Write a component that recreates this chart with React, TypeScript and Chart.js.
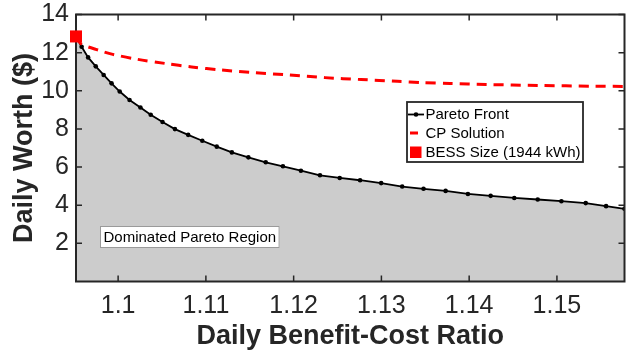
import { useEffect, useRef } from 'react';
import { Chart, registerables } from 'chart.js';

Chart.register(...registerables);

// ---- data ----
const paretoX = [
  1.0952, 1.09584, 1.09658, 1.09745, 1.09835, 1.09925, 1.10018, 1.1013, 1.10254, 1.10371,
  1.10506, 1.10647, 1.10798, 1.10959, 1.11124, 1.11296, 1.11484, 1.11682, 1.11878, 1.12083,
  1.123, 1.12525, 1.12757, 1.12997, 1.13237, 1.1348, 1.13732, 1.13986, 1.14245, 1.14514,
  1.14781, 1.15051, 1.15328, 1.1556, 1.1577,
];
const paretoY = [
  12.85, 12.31, 11.75, 11.28, 10.83, 10.39, 9.96, 9.52, 9.12, 8.74,
  8.36, 7.99, 7.69, 7.38, 7.07, 6.77, 6.51, 6.25, 6.04, 5.81,
  5.57, 5.43, 5.31, 5.16, 4.98, 4.86, 4.75, 4.59, 4.49, 4.38,
  4.3, 4.21, 4.11, 3.95, 3.81,
];
const cpX = [
  1.0952, 1.09576, 1.09782, 1.09939, 1.1022, 1.1054, 1.10839, 1.11176, 1.11551, 1.11945,
  1.12356, 1.12769, 1.13181, 1.13462, 1.1378, 1.14193, 1.14792, 1.1541, 1.1577,
];
const cpY = [
  12.85, 12.47, 12.12, 11.91, 11.65, 11.43, 11.25, 11.09, 10.95, 10.83,
  10.69, 10.59, 10.5, 10.43, 10.38, 10.33, 10.28, 10.24, 10.23,
];
const bessX = [1.0952];
const bessY = [12.85];

const xTicks = [1.1, 1.11, 1.12, 1.13, 1.14, 1.15];
const yTicks = [2, 4, 6, 8, 10, 12, 14];
const xRange = [1.0952, 1.1577];
const yRange = [0, 14];

const seriesLabels = ['BESS Size (1944 kWh)', 'CP Solution', 'Pareto Front'];
const regionLabel = 'Dominated Pareto Region';
const xTitle = 'Daily Benefit-Cost Ratio';
const yTitle = 'Daily Worth ($)';

// ---- styles ----
const FONT = "'Liberation Sans', Arial, Helvetica, sans-serif";
const AXIS = '#262626';
const RED = '#ff0000';
const FILL = '#cccccc';

const toPts = (xs: number[], ys: number[]) => xs.map((x, i) => ({ x, y: ys[i] }));

const framePlugin = {
  id: 'matlabFrame',
  afterDatasetDraw(chart: any, args: any) {
    if (args.index !== 1) return;
    const { ctx, chartArea: a } = chart;
    const xs = chart.scales.x;
    const ys = chart.scales.y;
    ctx.save();
    ctx.strokeStyle = AXIS;
    ctx.lineWidth = 2;
    ctx.strokeRect(a.left, a.top, a.right - a.left, a.bottom - a.top);
    ctx.lineWidth = 1.5;
    const tl = 6;
    ctx.beginPath();
    for (const t of xs.ticks) {
      const p = xs.getPixelForValue(t.value);
      ctx.moveTo(p, a.bottom);
      ctx.lineTo(p, a.bottom - tl);
      ctx.moveTo(p, a.top);
      ctx.lineTo(p, a.top + tl);
    }
    for (const t of ys.ticks) {
      const p = ys.getPixelForValue(t.value);
      ctx.moveTo(a.left, p);
      ctx.lineTo(a.left + tl, p);
      ctx.moveTo(a.right, p);
      ctx.lineTo(a.right - tl, p);
    }
    ctx.stroke();
    ctx.restore();
  },
};

const annotationPlugin = {
  id: 'legendAndLabel',
  afterDraw(chart: any) {
    const { ctx } = chart;
    const ds = chart.data.datasets;
    ctx.save();
    ctx.font = `15px ${FONT}`;
    ctx.textBaseline = 'middle';
    ctx.textAlign = 'left';

    // legend box
    const lx = 407, ly = 102, lw = 176, lh = 60;
    ctx.fillStyle = '#ffffff';
    ctx.fillRect(lx, ly, lw, lh);
    ctx.strokeStyle = AXIS;
    ctx.lineWidth = 1.8;
    ctx.strokeRect(lx, ly, lw, lh);

    const rows = [ly + 12.5, ly + 31, ly + 50];
    const order = [2, 1, 0];
    order.forEach((di, r) => {
      const y = rows[r];
      const d = ds[di];
      if (di === 2) {
        ctx.strokeStyle = '#000';
        ctx.lineWidth = 1.8;
        ctx.beginPath();
        ctx.moveTo(lx + 1, y);
        ctx.lineTo(lx + 17, y);
        ctx.stroke();
        ctx.fillStyle = '#000';
        ctx.beginPath();
        ctx.arc(lx + 9, y, 2.3, 0, Math.PI * 2);
        ctx.fill();
      } else if (di === 1) {
        ctx.strokeStyle = RED;
        ctx.lineWidth = 3;
        ctx.beginPath();
        ctx.moveTo(lx + 3, y);
        ctx.lineTo(lx + 11, y);
        ctx.stroke();
      } else {
        ctx.fillStyle = RED;
        ctx.fillRect(lx + 3, y - 5.5, 11.5, 11.5);
      }
      ctx.fillStyle = '#000';
      ctx.fillText(d.label, lx + 18.5, y + 0.5);
    });

    // region label
    const rx = 100, ry = 226;
    const tw = ctx.measureText(regionLabel).width;
    ctx.fillStyle = '#ffffff';
    ctx.fillRect(rx, ry, tw + 7, 22);
    ctx.strokeStyle = '#9a9a9a';
    ctx.lineWidth = 1;
    ctx.strokeRect(rx + 0.5, ry + 0.5, tw + 6, 21);
    ctx.fillStyle = '#000';
    ctx.fillText(regionLabel, rx + 3.5, ry + 11.5);
    ctx.restore();
  },
};

export default function App() {
  const ref = useRef<HTMLCanvasElement | null>(null);

  useEffect(() => {
    document.body.style.margin = '0';
    const canvas = ref.current;
    if (!canvas) return;
    const chart = new Chart(canvas, {
      type: 'line',
      data: {
        datasets: [
          {
            label: seriesLabels[0],
            data: toPts(bessX, bessY),
            showLine: false,
            pointStyle: 'rect',
            pointRadius: 8.5,
            pointBackgroundColor: RED,
            pointBorderWidth: 0,
            backgroundColor: RED,
            borderColor: RED,
            clip: false as any,
            order: 0,
          },
          {
            label: seriesLabels[1],
            data: toPts(cpX, cpY),
            borderColor: RED,
            borderWidth: 3,
            borderDash: [10, 7],
            pointRadius: 0,
            fill: false,
            tension: 0.3,
            order: 1,
          },
          {
            label: seriesLabels[2],
            data: toPts(paretoX, paretoY),
            borderColor: '#000000',
            borderWidth: 1.8,
            pointRadius: 2.3,
            pointBackgroundColor: '#000000',
            pointBorderWidth: 0,
            fill: 'start',
            backgroundColor: FILL,
            tension: 0,
            order: 2,
          },
        ],
      },
      options: {
        animation: false,
        responsive: false,
        devicePixelRatio: 1,
        events: [],
        layout: { padding: { top: 14.5, right: 1, left: 0, bottom: 0 } },
        plugins: {
          legend: { display: false },
          tooltip: { enabled: false },
        },
        scales: {
          x: {
            type: 'linear',
            min: xRange[0],
            max: xRange[1],
            afterBuildTicks: (s: any) => {
              s.ticks = xTicks.map((v) => ({ value: v }));
            },
            afterFit: (s: any) => {
              s.height = 68.5;
              s.paddingLeft = 0;
              s.paddingRight = 0;
            },
            grid: { display: false, drawTicks: false },
            border: { display: false },
            ticks: {
              autoSkip: false,
              maxRotation: 0,
              padding: 12,
              color: AXIS,
              font: { family: FONT, size: 25, lineHeight: 1 },
              callback: (v: any) => String(Number(Number(v).toFixed(2))),
            },
            title: {
              display: true,
              text: xTitle,
              color: AXIS,
              font: { family: FONT, size: 27, weight: 'bold', lineHeight: 1 },
              padding: { top: 0, bottom: 0 },
            },
          },
          y: {
            type: 'linear',
            min: yRange[0],
            max: yRange[1],
            afterBuildTicks: (s: any) => {
              s.ticks = yTicks.map((v) => ({ value: v }));
            },
            afterFit: (s: any) => {
              s.width = 76;
              s.paddingTop = 0;
              s.paddingBottom = 0;
            },
            grid: { display: false, drawTicks: false },
            border: { display: false },
            ticks: {
              autoSkip: false,
              padding: 7,
              color: AXIS,
              font: { family: FONT, size: 25, lineHeight: 1 },
            },
            title: {
              display: true,
              text: yTitle,
              color: AXIS,
              font: { family: FONT, size: 27, weight: 'bold', lineHeight: 1 },
              padding: { top: 11.5, bottom: 0 },
            },
          },
        },
      },
      plugins: [framePlugin, annotationPlugin],
    } as any);
    return () => chart.destroy();
  }, []);

  return (
    <div style={{ position: 'relative', width: 633, height: 350 }}>
      <canvas ref={ref} width={633} height={350} style={{ display: 'block' }} />
    </div>
  );
}
